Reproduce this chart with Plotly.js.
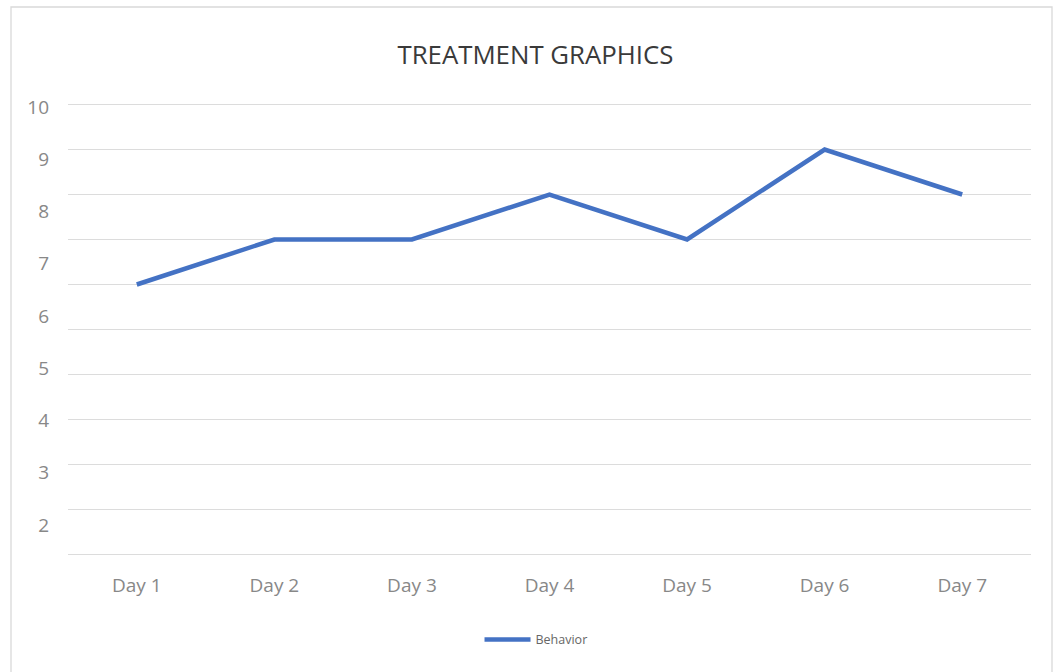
<!DOCTYPE html>
<html>
<head>
<meta charset="utf-8">
<script src="https://cdn.plot.ly/plotly-3.0.1.min.js"></script>
<style>html,body{margin:0;padding:0;background:#fff;}#chart{width:1054px;height:672px;}</style>
</head>
<body>
<div id="chart"></div>
<script>
const categories = ["Day 1", "Day 2", "Day 3", "Day 4", "Day 5", "Day 6", "Day 7"];
const behavior = [6, 7, 7, 8, 7, 9, 8];
const yTickVals = [2, 3, 4, 5, 6, 7, 8, 9, 10];
const yTickText = ["2", "3", "4", "5", "6", "7", "8", "9", "10"];

const font = "'Open Sans', 'Liberation Sans', sans-serif";
const plotH = 459;

const traces = [
  {
    x: categories,
    y: behavior,
    type: "scatter",
    mode: "lines",
    name: "Behavior",
    line: {color: "#4472C4", width: 4.5},
    yaxis: "y"
  },
  {
    x: categories,
    y: behavior.map(() => null),
    type: "scatter",
    mode: "lines",
    showlegend: false,
    hoverinfo: "skip",
    yaxis: "y2"
  }
];

const layout = {
  width: 1054,
  height: 672,
  paper_bgcolor: "#ffffff",
  plot_bgcolor: "#ffffff",
  margin: {l: 68, r: 23, t: 100, b: 113},
  title: {
    text: "TREATMENT GRAPHICS",
    font: {family: font, size: 25.8, color: "#3a3a3a"},
    x: 0.508, xanchor: "center",
    y: 0.918, yanchor: "middle"
  },
  xaxis: {
    type: "category",
    range: [-0.5, 6.5],
    showgrid: false,
    zeroline: false,
    showline: false,
    ticks: "",
    tickfont: {family: font, size: 19, color: "#888888"},
    ticklabelstandoff: 13
  },
  yaxis: {
    range: [-0.1, 10.1],
    tickvals: [0, 1, 2, 3, 4, 5, 6, 7, 8, 9, 10],
    showticklabels: false,
    showgrid: true,
    gridcolor: "#dcdcdc",
    gridwidth: 1.3,
    zeroline: false,
    showline: false,
    ticks: "",
    fixedrange: true
  },
  yaxis2: {
    overlaying: "y",
    side: "left",
    range: [1.349, 10.134],
    tickvals: yTickVals,
    ticktext: yTickText,
    showgrid: false,
    zeroline: false,
    showline: false,
    ticks: "",
    ticklabelstandoff: 18,
    tickfont: {family: font, size: 19, color: "#888888"}
  },
  showlegend: true,
  legend: {
    orientation: "h",
    x: 0.486, xanchor: "center",
    y: -0.176, yanchor: "middle",
    itemwidth: 46,
    font: {family: font, size: 12.5, color: "#666666"},
    bgcolor: "rgba(0,0,0,0)"
  },
  shapes: [
    {
      type: "rect", xref: "paper", yref: "paper",
      x0: -57 / 963, x1: 984 / 963,
      y0: -120 / plotH, y1: (559 - 7) / plotH,
      line: {color: "#d9d9d9", width: 1.3},
      fillcolor: "rgba(0,0,0,0)",
      layer: "below"
    }
  ]
};

Plotly.newPlot("chart", traces, layout, {displayModeBar: false, staticPlot: true});
</script>
</body>
</html>
